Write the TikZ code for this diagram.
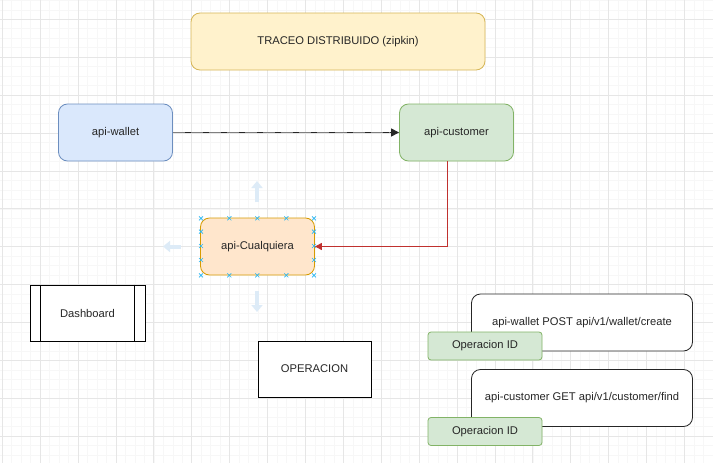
\documentclass[tikz,border=0pt]{standalone}
\usepackage{fontspec}
\setmainfont{Liberation Sans}
\usetikzlibrary{arrows.meta}
\definecolor{gridmaj}{HTML}{E6E6E6}
\definecolor{gridmin}{HTML}{F7F7F7}
\definecolor{yelfill}{HTML}{FFF2CC}
\definecolor{yeldraw}{HTML}{D6B656}
\definecolor{bluefill}{HTML}{DAE8FC}
\definecolor{bluedraw}{HTML}{6C8EBF}
\definecolor{grnfill}{HTML}{D5E8D4}
\definecolor{grndraw}{HTML}{82B366}
\definecolor{orgfill}{HTML}{FFE6CC}
\definecolor{orgdraw}{HTML}{D79B00}
\definecolor{redline}{HTML}{C0312F}
\definecolor{handle}{HTML}{29B6F2}
\definecolor{hover}{HTML}{DDEBF7}
\tikzset{
  x=1pt,y=-1pt,
  every node/.style={font=\fontsize{11.2}{13}\selectfont, text=black!85},
  rbox/.style={draw, rounded corners=9pt, line width=0.8pt, inner sep=0pt},
  sbox/.style={draw, line width=0.8pt, inner sep=0pt},
  tag/.style={draw=grndraw, fill=grnfill, rounded corners=3pt, line width=0.8pt, inner sep=0pt, minimum width=114pt, minimum height=28pt},
  hoverarrow/.style={draw=hover, line width=4pt, -{Triangle[length=7pt,width=11pt]}},
  hmark/.style={draw=handle, line width=0.7pt},
}
\newcommand{\hx}[2]{\draw[hmark] (#1-2,#2-2) -- (#1+2,#2+2) (#1-2,#2+2) -- (#1+2,#2-2);}
\begin{document}
\begin{tikzpicture}
\useasboundingbox (0,0) rectangle (713,463);
\fill[white] (0,0) rectangle (713,463);
% grid
\foreach \i in {0,...,76} {
  \draw[gridmin, line width=0.5pt] ({2.2+9.475*\i},0) -- ({2.2+9.475*\i},463);
}
\foreach \i in {0,...,50} {
  \draw[gridmin, line width=0.5pt] (0,{0.3+9.475*\i}) -- (713,{0.3+9.475*\i});
}
\foreach \i in {0,...,19} {
  \draw[gridmaj, line width=0.8pt] ({2.2+37.9*\i},0) -- ({2.2+37.9*\i},463);
}
\foreach \i in {0,...,12} {
  \draw[gridmaj, line width=0.8pt] (0,{19.3+37.9*\i}) -- (713,{19.3+37.9*\i});
}

% nodes
\node[rbox, draw=yeldraw, fill=yelfill, minimum width=294pt, minimum height=57pt] (trace) at (338,41.5) {TRACEO DISTRIBUIDO (zipkin)};
\node[rbox, draw=bluedraw, fill=bluefill, minimum width=114pt, minimum height=57pt] (wallet) at (115.5,132.5) {api-wallet};
\node[rbox, draw=grndraw, fill=grnfill, minimum width=114pt, minimum height=57pt] (customer) at (456.5,132.5) {api-customer};
\node[rbox, draw=orgdraw, fill=orgfill, minimum width=114pt, minimum height=57pt] (cual) at (257.5,246.5) {api-Cualquiera};

\node[sbox, draw=black, fill=white, minimum width=115pt, minimum height=56pt] (dash) at (87.5,313) {Dashboard};
\draw[line width=0.8pt] ([xshift=11pt]dash.north west) -- ([xshift=11pt]dash.south west);
\draw[line width=0.8pt] ([xshift=-11pt]dash.north east) -- ([xshift=-11pt]dash.south east);

\node[sbox, draw=black, fill=white, minimum width=113pt, minimum height=56pt] (oper) at (314.5,369) {OPERACION};

\node[rbox, draw=black!85, fill=white, minimum width=221pt, minimum height=57pt] (ev1) at (582,322.5) {api-wallet POST api/v1/wallet/create};
\node[tag] (id1) at (485,346) {Operacion ID};
\node[rbox, draw=black!85, fill=white, minimum width=221pt, minimum height=57pt] (ev2) at (582,398) {api-customer GET api/v1/customer/find};
\node[tag] (id2) at (485,431.5) {Operacion ID};

% connectors
\draw[black!85, line width=1pt, -{Triangle[length=8pt,width=8pt]}] (wallet.east) -- (customer.west);
\draw[black!50, line width=1.1pt, dash pattern=on 12pt off 6pt] (wallet.east) -- ([xshift=-10pt]customer.west);
\coordinate (bend) at (447.5,246.5);
\draw[redline, line width=0.9pt, -{Triangle[length=7pt,width=7pt]}] (customer.south -| bend) -- (bend) -- (cual.east);

% hover arrows
\draw[hoverarrow] (257,202) -- (257,181);
\draw[hoverarrow] (257,291) -- (257,312);
\draw[hoverarrow] (181,246.5) -- (163,246.5);

% selection handles
\foreach \xx in {201,229.3,257.3,286.3,314} { \hx{\xx}{218.3} \hx{\xx}{275.3} }
\foreach \yy in {231.7,246,260} { \hx{201}{\yy} \hx{314}{\yy} }
\end{tikzpicture}
\end{document}
